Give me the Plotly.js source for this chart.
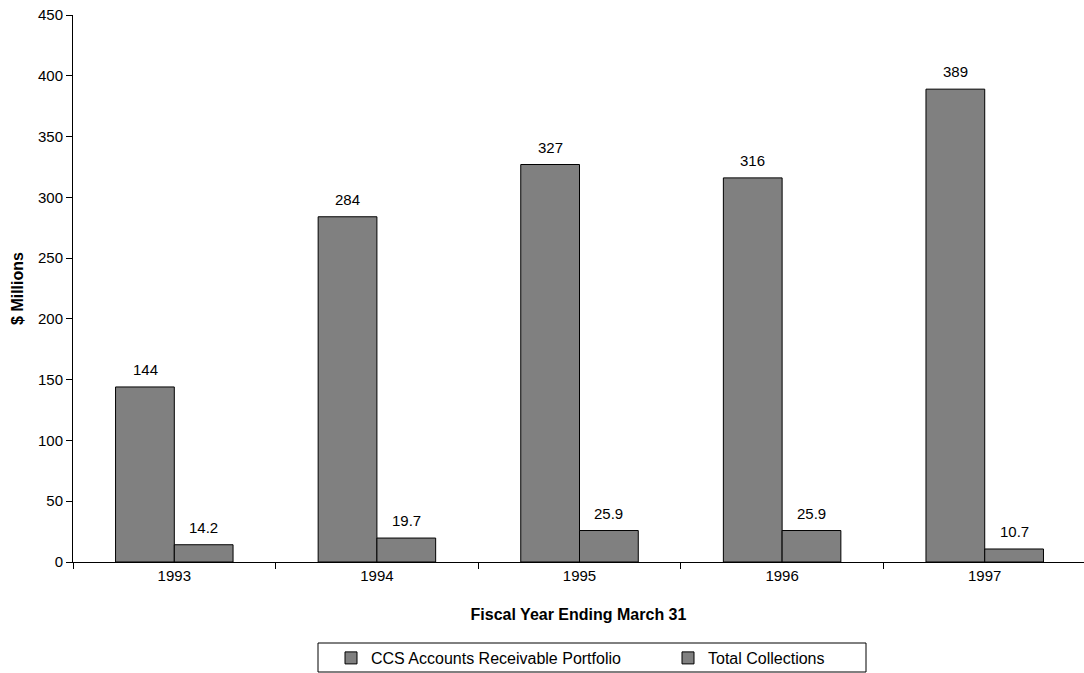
<!DOCTYPE html>
<html>
<head>
<meta charset="utf-8">
<script src="https://cdn.plot.ly/plotly-3.0.1.min.js"></script>
<style>html,body{margin:0;padding:0;background:#fff;}#chart{width:1084px;height:673px;}</style>
</head>
<body>
<div id="chart"></div>
<script>
const years = ["1993", "1994", "1995", "1996", "1997"];
const portfolio = [144, 284, 327, 316, 389];
const collections = [14.2, 19.7, 25.9, 25.9, 10.7];
const portfolioLabels = ["144", "284", "327", "316", "389"];
const collectionLabels = ["14.2", "19.7", "25.9", "25.9", "10.7"];
const seriesNames = ["CCS Accounts Receivable Portfolio", "Total Collections"];

const FAM = "Liberation Sans, Arial, sans-serif";
const barStyle = {color: "#808080", line: {color: "#000", width: 1}};

const traces = [
  {type: "bar", name: seriesNames[0], x: years, y: portfolio, marker: barStyle, hoverinfo: "skip"},
  {type: "bar", name: seriesNames[1], x: years, y: collections, marker: barStyle, hoverinfo: "skip"}
];

// data labels above each bar; x is the category index, shifted half a bar left/right
const annotations = [];
const half = 29.3;
years.forEach((yr, i) => {
  annotations.push({x: i, y: portfolio[i], text: portfolioLabels[i], showarrow: false,
    xshift: -half, yshift: 7, yanchor: "bottom", font: {family: FAM, size: 15, color: "#000"}});
  annotations.push({x: i, y: collections[i], text: collectionLabels[i], showarrow: false,
    xshift: half, yshift: 7, yanchor: "bottom", font: {family: FAM, size: 15, color: "#000"}});
});

const W = 1084, L = 73, R = 0, T = 15, B = 111;
const pw = W - L - R, ph = 673 - T - B;

const layout = {
  width: W, height: 673,
  margin: {l: L, r: R, t: T, b: B},
  paper_bgcolor: "#fff", plot_bgcolor: "#fff",
  font: {family: FAM, size: 15, color: "#000"},
  barmode: "group", bargap: 0.42, bargroupgap: 0,
  showlegend: true,
  legend: {orientation: "h", xref: "container", yref: "container",
           x: 331 / 1084, xanchor: "left", y: 32 / 673, yanchor: "top",
           borderwidth: 0, bgcolor: "rgba(0,0,0,0)", font: {family: FAM, size: 16},
           entrywidth: 292, traceorder: "normal"},
  shapes: [{type: "rect", xref: "paper", yref: "paper",
            x0: (318 - L) / pw, x1: (866 - L) / pw,
            y0: (562 - 672) / ph, y1: (562 - 643) / ph,
            line: {color: "#000", width: 1}, fillcolor: "rgba(0,0,0,0)", layer: "below"}],
  annotations: annotations,
  xaxis: {type: "category", range: [-0.5, 4.49], showline: true, linecolor: "#000", linewidth: 1,
          ticks: "outside", tickson: "boundaries", ticklen: 6, tickcolor: "#000",
          showgrid: false, zeroline: false, automargin: false, tickangle: 0,
          title: {text: "<b>Fiscal Year Ending March 31</b>", font: {family: FAM, size: 16}, standoff: 25},
          tickfont: {family: FAM, size: 15}},
  yaxis: {range: [0, 450], dtick: 50, showline: true, linecolor: "#000", linewidth: 1,
          ticks: "outside", ticklen: 6, tickcolor: "#000", showgrid: false, zeroline: false,
          automargin: false,
          title: {text: "<b>$ Millions</b>", font: {family: FAM, size: 16}, standoff: 10},
          tickfont: {family: FAM, size: 15}}
};

Plotly.newPlot("chart", traces, layout, {displayModeBar: false, staticPlot: true});
</script>
</body>
</html>
